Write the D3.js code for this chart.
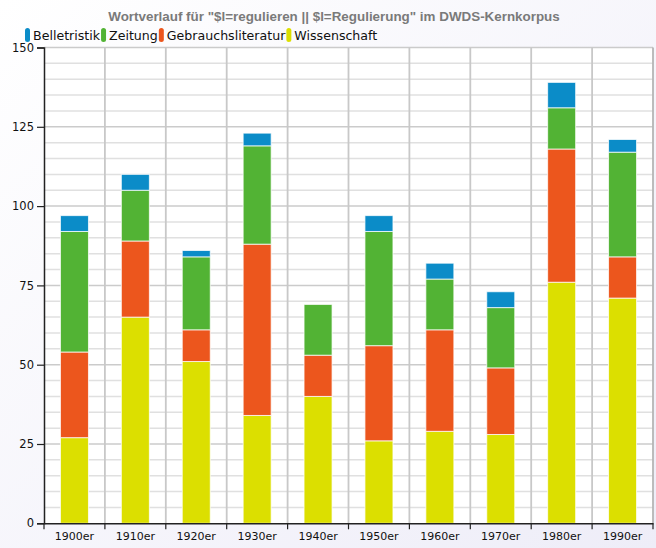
<!DOCTYPE html>
<html>
<head>
<meta charset="UTF-8">
<script src="https://d3js.org/d3.v7.min.js"></script>
<style>
  body { margin: 0; background: #fff; }
  svg { display: block; font-family: "DejaVu Sans", Verdana, sans-serif; }
</style>
</head>
<body>
<svg id="chart" width="656" height="548"></svg>
<script>
// data
var decades = ["1900er", "1910er", "1920er", "1930er", "1940er", "1950er", "1960er", "1970er", "1980er", "1990er"];
var wissenschaft = [27, 65, 51, 34, 40, 26, 29, 28, 76, 71];
var gebrauchsliteratur = [27, 24, 10, 54, 13, 30, 32, 21, 42, 13];
var zeitung = [38, 16, 23, 31, 16, 36, 16, 19, 13, 33];
var belletristik = [5, 5, 2, 4, 0, 5, 5, 5, 8, 4];
var yTicks = [0, 25, 50, 75, 100, 125, 150];

var seriesNames = ["Belletristik", "Zeitung", "Gebrauchsliteratur", "Wissenschaft"];
var colors = {
  "Belletristik": "#0b8cc8",
  "Zeitung": "#52b334",
  "Gebrauchsliteratur": "#ec561d",
  "Wissenschaft": "#dcdf00"
};

var rows = decades.map(function(d, i) {
  return {
    decade: d,
    "Wissenschaft": wissenschaft[i],
    "Gebrauchsliteratur": gebrauchsliteratur[i],
    "Zeitung": zeitung[i],
    "Belletristik": belletristik[i]
  };
});

var svg = d3.select("#chart");
var W = 656, H = 548;
var margin = { left: 44, right: 3, top: 47.5, bottom: 24.7 };
var pw = W - margin.left - margin.right,
    ph = H - margin.top - margin.bottom;

// background
var defs = svg.append("defs");
var bg = defs.append("linearGradient").attr("id", "bg")
  .attr("x1", 0).attr("y1", 0).attr("x2", 1).attr("y2", 1);
bg.append("stop").attr("offset", "0%").attr("stop-color", "#ffffff");
bg.append("stop").attr("offset", "100%").attr("stop-color", "#eeedf8");
svg.append("rect").attr("width", W).attr("height", H).attr("fill", "url(#bg)");

var x = d3.scaleBand().domain(decades).range([0, pw]).paddingInner(0.54).paddingOuter(0.27);
var xb = d3.scaleBand().domain(decades).range([0, pw]);
var y = d3.scaleLinear().domain([0, 150]).range([ph, 0]);

var g = svg.append("g").attr("transform", "translate(" + margin.left + "," + margin.top + ")");

g.append("rect").attr("width", pw).attr("height", ph).attr("fill", "#fff");

// minor grid
g.append("g").selectAll("line")
  .data(d3.range(5, 150, 5).filter(function(v) { return v % 25 !== 0; }))
  .enter().append("line")
  .attr("x1", 0).attr("x2", pw)
  .attr("y1", function(d) { return y(d); }).attr("y2", function(d) { return y(d); })
  .attr("stroke", "#e0e0e0").attr("stroke-width", 1.5);

// major grid
g.append("g").selectAll("line")
  .data(yTicks.slice(1))
  .enter().append("line")
  .attr("x1", 0).attr("x2", pw)
  .attr("y1", function(d) { return y(d); }).attr("y2", function(d) { return y(d); })
  .attr("stroke", "#cbcbcb").attr("stroke-width", 1.5);

// vertical grid at band edges
g.append("g").selectAll("line")
  .data(decades.slice(1).concat(["end"]))
  .enter().append("line")
  .attr("x1", function(d, i) { return i < decades.length - 1 ? xb(d) : pw; })
  .attr("x2", function(d, i) { return i < decades.length - 1 ? xb(d) : pw; })
  .attr("y1", 0).attr("y2", ph)
  .attr("stroke", function(d, i) { return i < decades.length - 1 ? "#c8c8c8" : "#b5b5b5"; })
  .attr("stroke-width", 1.8);

// stacked bars
var stack = d3.stack().keys(["Wissenschaft", "Gebrauchsliteratur", "Zeitung", "Belletristik"]);
var layers = stack(rows);

g.append("g").selectAll("g")
  .data(layers)
  .enter().append("g")
  .attr("fill", function(d) { return colors[d.key]; })
  .selectAll("rect")
  .data(function(d) { return d.filter(function(s) { return s[1] > s[0]; }); })
  .enter().append("rect")
  .attr("x", function(d) { return x(d.data.decade); })
  .attr("width", x.bandwidth())
  .attr("y", function(d) { return y(d[1]); })
  .attr("height", function(d) { return y(d[0]) - y(d[1]); })
  .attr("stroke", "#ffffff").attr("stroke-opacity", 0.75).attr("stroke-width", 1);

// axes
var yAxis = g.append("g")
  .call(d3.axisLeft(y).tickValues(yTicks).tickSize(7).tickPadding(3));
yAxis.select(".domain").attr("stroke", "#222").attr("stroke-width", 1.5);
yAxis.selectAll(".tick line").attr("stroke", "#222").attr("stroke-width", 1.2);
yAxis.selectAll("text").attr("font-size", "11.5px").attr("fill", "#111")
  .attr("font-family", "DejaVu Sans, sans-serif");

var xAxis = g.append("g").attr("transform", "translate(0," + ph + ")")
  .call(d3.axisBottom(xb).tickSize(0).tickPadding(9));
xAxis.select(".domain").attr("stroke", "#222").attr("stroke-width", 1.5);
xAxis.selectAll("text").attr("font-size", "11px").attr("fill", "#111")
  .attr("font-family", "DejaVu Sans, sans-serif");
// tick marks at band edges
xAxis.append("g").selectAll("line")
  .data(decades.concat(["end"]))
  .enter().append("line")
  .attr("x1", function(d, i) { return i < decades.length ? xb(d) : pw; })
  .attr("x2", function(d, i) { return i < decades.length ? xb(d) : pw; })
  .attr("y1", 0).attr("y2", 6)
  .attr("stroke", "#222").attr("stroke-width", 1.2);

// title
svg.append("text")
  .attr("x", 334).attr("y", 21)
  .attr("text-anchor", "middle")
  .attr("font-family", "Liberation Sans, Arial, sans-serif")
  .attr("font-weight", "bold")
  .attr("font-size", "13.4px")
  .attr("fill", "#7a7a7a")
  .text('Wortverlauf für "$l=regulieren || $l=Regulierung" im DWDS-Kernkorpus');

// legend
var legend = svg.append("g").attr("transform", "translate(25,28)");
var lx = 0;
seriesNames.forEach(function(name) {
  var item = legend.append("g").attr("transform", "translate(" + lx + ",0)");
  item.append("rect").attr("width", 5).attr("height", 14).attr("rx", 2.5)
    .attr("fill", colors[name]);
  var t = item.append("text").attr("x", 8).attr("y", 12)
    .attr("font-size", "12.6px").attr("fill", "#111")
    .attr("font-family", "DejaVu Sans, sans-serif")
    .text(name);
  lx += 8 + t.node().getComputedTextLength() + 1;
});
</script>
</body>
</html>
